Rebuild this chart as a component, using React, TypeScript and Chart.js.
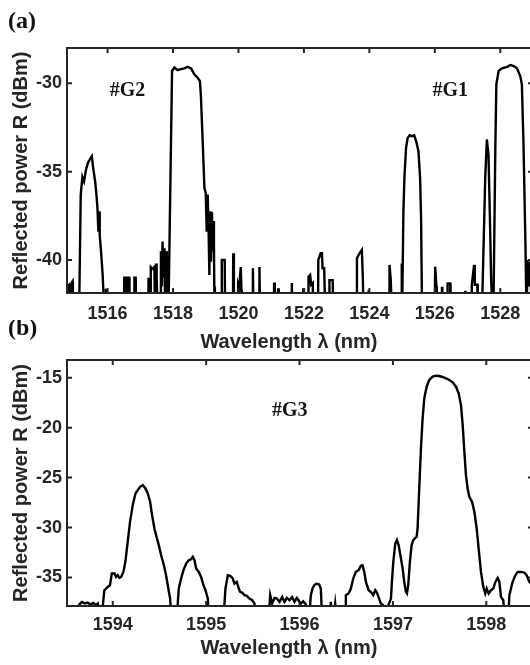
import React, { useEffect, useRef } from "react";
import { Chart, registerables } from "chart.js";
Chart.register(...registerables);

// ---------- Panel (a) data: wavelength (nm) / reflected power (dBm) ----------
const wavelengthA = [
  1514.76, 1514.8, 1514.83, 1514.85, 1514.9, 1514.91, 1514.93, 1514.94,
  1515.13, 1515.18, 1515.23, 1515.28, 1515.34, 1515.4, 1515.46, 1515.52, 1515.56, 1515.62, 1515.66, 1515.69,
  1515.72, 1515.74, 1515.76, 1515.8, 1515.85, 1515.9, 1515.94, 1515.95, 1515.97, 1515.98,
  1516.5, 1516.51, 1516.56, 1516.57, 1516.6, 1516.61, 1516.66, 1516.67, 1516.81, 1516.82, 1516.86, 1516.87,
  1517.24, 1517.25, 1517.27, 1517.31, 1517.32, 1517.38, 1517.43, 1517.45, 1517.47, 1517.48, 1517.5, 1517.53,
  1517.62, 1517.63, 1517.66, 1517.68, 1517.7, 1517.72, 1517.74, 1517.76, 1517.8, 1517.81, 1517.83, 1517.86,
  1517.97, 1518.04, 1518.14, 1518.24, 1518.34, 1518.45, 1518.55, 1518.65, 1518.75, 1518.82, 1518.85, 1518.91,
  1518.96, 1519.0, 1519.03, 1519.06, 1519.09, 1519.11, 1519.13, 1519.16, 1519.19, 1519.21, 1519.23, 1519.25,
  1519.26, 1519.28, 1519.48, 1519.49, 1519.58, 1519.59, 1519.83, 1519.84, 1519.86, 1519.98, 1519.99, 1520.02,
  1520.07, 1520.09, 1520.1, 1520.43, 1520.44, 1520.46, 1520.63, 1520.64, 1520.66, 1521.08, 1521.09, 1521.11,
  1521.2, 1521.21, 1521.23, 1521.62, 1521.63, 1521.65, 1521.97, 1521.98, 1522.0, 1522.13, 1522.14, 1522.19,
  1522.22, 1522.27, 1522.28, 1522.43, 1522.44, 1522.51, 1522.55, 1522.57, 1522.62, 1522.65, 1522.77, 1522.78,
  1522.88, 1522.89, 1523.6, 1523.62, 1523.7, 1523.77, 1523.8, 1523.82, 1523.97, 1523.98, 1524.0,
  1524.6, 1524.615, 1524.65, 1524.69, 1524.98, 1524.99, 1525.0, 1525.01, 1525.04, 1525.07, 1525.12, 1525.17,
  1525.23, 1525.3, 1525.37, 1525.43, 1525.5, 1525.55, 1525.58, 1525.61, 1526.0, 1526.01, 1526.05, 1526.06,
  1526.21, 1526.22, 1526.23, 1526.38, 1526.39, 1526.47, 1526.48, 1526.92, 1526.93, 1526.94,
  1527.12, 1527.13, 1527.2, 1527.22, 1527.3, 1527.31, 1527.44, 1527.54, 1527.59, 1527.64, 1527.69, 1527.72,
  1527.76, 1527.79, 1527.85, 1527.88, 1527.95, 1528.05, 1528.21, 1528.31, 1528.41, 1528.51, 1528.61, 1528.66,
  1528.71, 1528.77, 1528.8, 1528.84, 1528.88, 1528.92, 1528.96, 1529.0,
];
const powerA = [
  -43, -41.45, -41.4, -43, -43, -41.25, -41.2, -43,
  -43, -36.3, -35.3, -35.55, -34.9, -34.5, -34.3, -34.13, -34.8, -35.55, -36.3, -37.06,
  -38.4, -37.25, -38.6, -39.5, -40.85, -43, -43, -41.7, -41.7, -43,
  -43, -41.0, -41.0, -43, -43, -41.0, -41.0, -43, -43, -41.0, -41.0, -43,
  -43, -41.0, -43, -43, -40.4, -40.5, -40.4, -43, -43, -40.2, -41.0, -43,
  -43, -39.5, -41.5, -38.96, -41.0, -41.0, -39.34, -43, -43, -39.5, -43, -43,
  -29.3, -29.11, -29.26, -29.2, -29.15, -29.07, -29.15, -29.49, -29.68, -29.87, -30.63, -33.47,
  -35.93, -36.21, -38.4, -36.3, -38.6, -40.85, -37.25, -40.1, -37.3, -39.5, -37.8, -39.0,
  -41.5, -43, -43, -40.0, -40.0, -43, -43, -39.62, -43, -43, -41.4, -41.6,
  -40.4, -41.7, -43, -43, -40.47, -43, -43, -40.4, -43, -43, -41.27, -43,
  -43, -41.6, -43, -43, -41.3, -43, -43, -41.6, -43, -43, -40.95, -40.85,
  -41.4, -41.3, -43, -43, -40.0, -39.62, -39.62, -40.47, -40.47, -43, -43, -41.14,
  -41.14, -43, -43, -39.9, -39.62, -39.43, -41.0, -43, -43, -41.7, -43,
  -43, -40.28, -41.04, -43, -43, -40.2, -43, -43, -37.26, -35.36, -33.66, -33.09,
  -32.94, -32.99, -32.94, -33.28, -33.84, -35.36, -37.63, -43, -43, -40.38, -41.5, -43,
  -43, -41.52, -43, -43, -41.33, -41.33, -43, -43, -41.75, -43,
  -43, -41.4, -40.28, -41.4, -41.4, -43, -43, -35.36, -33.18, -34.03, -38.2, -41.0,
  -43, -43, -33.47, -30.06, -29.3, -29.15, -29.07, -28.96, -29.02, -29.15, -29.59, -30.06,
  -33.47, -39.15, -43, -40.0, -41.5, -40.1, -43, -43,
];

// ---------- Panel (b) data ----------
const wavelengthB = [
  1593.51, 1593.62, 1593.64, 1593.67, 1593.7, 1593.73, 1593.76, 1593.79, 1593.82, 1593.84, 1593.87,
  1593.91, 1593.946, 1593.97, 1593.99, 1594.02, 1594.035, 1594.053, 1594.071, 1594.089, 1594.114,
  1594.135, 1594.16, 1594.185, 1594.214, 1594.243, 1594.268, 1594.293, 1594.321, 1594.35, 1594.375,
  1594.4, 1594.421, 1594.446, 1594.464, 1594.493, 1594.518, 1594.543, 1594.571, 1594.589, 1594.614,
  1594.636, 1594.678, 1594.707, 1594.732, 1594.757, 1594.786, 1594.814, 1594.839, 1594.857, 1594.875,
  1594.893, 1594.921, 1594.946, 1594.971, 1594.993, 1595.018, 1595.036, 1595.179, 1595.207, 1595.232,
  1595.257, 1595.285, 1595.303, 1595.328, 1595.35, 1595.364, 1595.386, 1595.411, 1595.436, 1595.464,
  1595.493, 1595.518, 1595.536, 1595.661, 1595.686, 1595.707, 1595.732, 1595.757, 1595.786, 1595.814,
  1595.839, 1595.864, 1595.893, 1595.921, 1595.946, 1595.971, 1595.989, 1596.014, 1596.039, 1596.068,
  1596.096, 1596.121, 1596.139, 1596.157, 1596.182, 1596.21, 1596.228, 1596.246, 1596.318, 1596.335,
  1596.353, 1596.382, 1596.407, 1596.489, 1596.496, 1596.525, 1596.55, 1596.575, 1596.603, 1596.632,
  1596.657, 1596.675, 1596.693, 1596.711, 1596.739, 1596.764, 1596.789, 1596.811, 1596.825, 1596.846,
  1596.871, 1596.896, 1596.925, 1596.954, 1596.979, 1596.989, 1597.004, 1597.025, 1597.043, 1597.061,
  1597.086, 1597.104, 1597.121, 1597.139, 1597.15, 1597.164, 1597.182, 1597.2, 1597.218, 1597.239,
  1597.254, 1597.264, 1597.282, 1597.3, 1597.318, 1597.336, 1597.361, 1597.389, 1597.425, 1597.461,
  1597.496, 1597.532, 1597.568, 1597.604, 1597.64, 1597.675, 1597.704, 1597.729, 1597.747, 1597.765,
  1597.782, 1597.8, 1597.818, 1597.847, 1597.872, 1597.897, 1597.918, 1597.943, 1597.968, 1597.989,
  1598.004, 1598.025, 1598.05, 1598.075, 1598.097, 1598.122, 1598.14, 1598.157, 1598.182, 1598.204,
  1598.229, 1598.247, 1598.264, 1598.282, 1598.311, 1598.336, 1598.372, 1598.407, 1598.432, 1598.461, 1598.5,
];
const powerB = [
  -40, -40, -37.7, -37.45, -37.6, -37.5, -37.7, -37.55, -37.75, -37.6, -40,
  -36.27, -35.94, -35.77, -34.6, -34.6, -34.94, -34.77, -35.04, -34.94, -34.44,
  -33.43, -31.43, -29.43, -27.76, -26.59, -26.25, -25.92, -25.75, -26.09, -26.59,
  -27.42, -28.76, -30.09, -30.76, -31.76, -32.77, -33.6, -34.77, -35.77, -37.11,
  -40, -40, -36.1, -35.1, -34.27, -33.6, -33.27, -33.17, -32.93, -33.27,
  -34.1, -34.44, -34.94, -35.77, -36.27, -37.11, -40, -40, -36.1, -34.77,
  -34.84, -35.1, -35.6, -35.44, -36.1, -36.44, -36.51, -36.77, -36.84, -37.11,
  -37.27, -37.61, -40, -40, -36.77, -37.61, -37.04, -37.11, -37.44, -36.94,
  -37.44, -37.04, -37.27, -36.94, -37.44, -37.04, -37.27, -37.61, -37.37, -37.71,
  -40, -36.77, -36.1, -35.77, -35.6, -35.7, -36.1, -40, -40, -37.44,
  -40, -37.61, -40, -40, -36.77, -36.6, -36.1, -35.1, -34.44, -34.27,
  -33.83, -33.77, -34.44, -35.44, -36.27, -36.44, -36.77, -36.27, -36.44, -36.94,
  -37.61, -37.77, -40, -37.71, -37.11, -35.44, -33.43, -31.6, -31.26, -31.76,
  -33.1, -34.1, -35.44, -36.44, -36.6, -35.77, -33.43, -31.76, -31.26, -31.03,
  -30.93, -30.09, -26.09, -22.08, -19.07, -17.07, -15.9, -15.23, -14.9, -14.8,
  -14.83, -14.93, -15.06, -15.23, -15.46, -15.9, -16.57, -17.74, -19.74, -22.41,
  -24.75, -26.09, -26.92, -27.42, -28.42, -30.09, -32.1, -34.44, -35.94, -36.6,
  -36.1, -36.6, -36.27, -36.1, -35.44, -35.04, -35.44, -36.94, -37.27, -40,
  -40, -36.77, -36.1, -35.44, -34.77, -34.44, -34.44, -34.5, -34.77, -35.44, -35.8,
];

// ---------- annotations (data coordinates) ----------
const gratingLabelsA = ["#G2", "#G1"];
const gratingXA = [1516.61, 1526.47];
const gratingYA = [-30.43, -30.43];
const gratingLabelsB = ["#G3"];
const gratingXB = [1595.895];
const gratingYB = [-18.34];

const X_TITLE = "Wavelength λ (nm)";
const Y_TITLE = "Reflected power R (dBm)";

const AXIS_COLOR = "#262626";
const SANS = "'Liberation Sans', Arial, sans-serif";
const SERIF = "'Liberation Serif', 'Times New Roman', serif";

const framePlugin = {
  id: "frame",
  afterDatasetsDraw(chart: any, _args: any, opts: any) {
    const { ctx, chartArea: a, scales } = chart;
    ctx.save();
    ctx.strokeStyle = AXIS_COLOR;
    ctx.lineWidth = 2;
    ctx.strokeRect(a.left, a.top, a.right - a.left, a.bottom - a.top);
    const tl = 5;
    ctx.beginPath();
    scales.x.ticks.forEach((t: any) => {
      const px = scales.x.getPixelForValue(t.value);
      ctx.moveTo(px, a.top);
      ctx.lineTo(px, a.top + tl);
      ctx.moveTo(px, a.bottom);
      ctx.lineTo(px, a.bottom - tl);
    });
    scales.y.ticks.forEach((t: any) => {
      const py = scales.y.getPixelForValue(t.value);
      ctx.moveTo(a.left, py);
      ctx.lineTo(a.left + tl, py);
      ctx.moveTo(a.right, py);
      ctx.lineTo(a.right - tl, py);
    });
    ctx.stroke();

    // grating annotations
    ctx.fillStyle = "#141414";
    ctx.font = `bold 20px ${SERIF}`;
    ctx.textAlign = "center";
    ctx.textBaseline = "middle";
    (opts.labels || []).forEach((txt: string, i: number) => {
      ctx.fillText(txt, scales.x.getPixelForValue(opts.xs[i]), scales.y.getPixelForValue(opts.ys[i]));
    });

    // axis titles
    ctx.fillStyle = AXIS_COLOR;
    ctx.font = `bold 20px ${SANS}`;
    ctx.fillText(X_TITLE, a.left + opts.xTitleOffset, a.bottom + opts.xTitleGap);
    ctx.save();
    ctx.translate(opts.yTitleX, (a.top + a.bottom) / 2);
    ctx.rotate(-Math.PI / 2);
    ctx.fillText(Y_TITLE, 0, 0);
    ctx.restore();

    // panel label
    ctx.fillStyle = "#111";
    ctx.font = `bold 24px ${SERIF}`;
    ctx.textAlign = "left";
    ctx.fillText(opts.panel, 8, opts.panelY);
    ctx.restore();
  },
};

function makeConfig(
  xs: number[],
  ys: number[],
  xMin: number,
  xMax: number,
  xStep: number,
  yMin: number,
  yMax: number,
  padTop: number,
  xScaleH: number,
  xTickPad: number,
  frameOpts: any
): any {
  return {
    type: "line",
    data: {
      datasets: [
        {
          data: xs.map((x, i) => ({ x, y: ys[i] })),
          borderColor: "#000",
          borderWidth: 2.4,
          pointRadius: 0,
          tension: 0,
          fill: false,
        },
      ],
    },
    options: {
      animation: false,
      responsive: false,
      maintainAspectRatio: false,
      layout: { padding: { top: padTop, left: 0, right: 12, bottom: 0 } },
      plugins: { legend: { display: false }, tooltip: { enabled: false }, frame: frameOpts },
      scales: {
        x: {
          type: "linear",
          min: xMin,
          max: xMax,
          grid: { display: false, drawTicks: false, tickLength: 0 },
          border: { display: false },
          ticks: {
            stepSize: xStep,
            includeBounds: false,
            padding: xTickPad,
            color: AXIS_COLOR,
            font: { family: SANS, size: 18, weight: "bold" },
            maxRotation: 0,
            autoSkip: false,
            callback: (v: number) => String(Math.round(v)),
          },
          afterFit: (s: any) => {
            s.height = xScaleH;
          },
        },
        y: {
          type: "linear",
          min: yMin,
          max: yMax,
          grid: { display: false, drawTicks: false, tickLength: 0 },
          border: { display: false },
          ticks: {
            stepSize: 5,
            includeBounds: false,
            padding: 5,
            color: AXIS_COLOR,
            font: { family: SANS, size: 18, weight: "bold" },
            callback: (v: number) => String(Math.round(v)),
          },
          afterFit: (s: any) => {
            s.width = 67;
          },
        },
      },
    },
    plugins: [framePlugin],
  };
}

export default function App() {
  const refA = useRef<HTMLCanvasElement | null>(null);
  const refB = useRef<HTMLCanvasElement | null>(null);

  useEffect(() => {
    const chartA = new Chart(
      refA.current as HTMLCanvasElement,
      makeConfig(wavelengthA, powerA, 1514.76, 1529.0, 2, -41.87, -28, 48, 61, 10, {
        labels: gratingLabelsA,
        xs: gratingXA,
        ys: gratingYA,
        xTitleOffset: 222,
        xTitleGap: 49,
        yTitleX: 21,
        panel: "(a)",
        panelY: 22,
      })
    );
    const chartB = new Chart(
      refB.current as HTMLCanvasElement,
      makeConfig(wavelengthB, powerB, 1593.51, 1598.5, 1, -37.85, -13.23, 40, 59, 8, {
        labels: gratingLabelsB,
        xs: gratingXB,
        ys: gratingYB,
        xTitleOffset: 222,
        xTitleGap: 42,
        yTitleX: 21,
        panel: "(b)",
        panelY: 9,
      })
    );
    return () => {
      chartA.destroy();
      chartB.destroy();
    };
  }, []);

  return (
    <div
      style={{
        position: "absolute",
        left: 0,
        top: 0,
        width: 530,
        height: 665,
        overflow: "hidden",
        background: "#fff",
      }}
    >
      <canvas ref={refA} width={545} height={354} style={{ position: "absolute", left: 0, top: 0 }} />
      <canvas ref={refB} width={545} height={345} style={{ position: "absolute", left: 0, top: 320 }} />
    </div>
  );
}
